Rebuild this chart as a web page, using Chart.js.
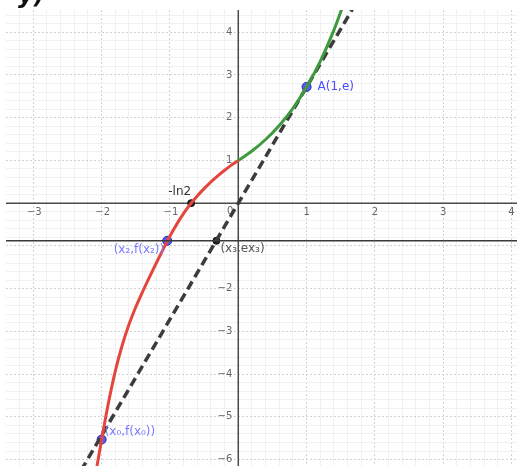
<!DOCTYPE html>
<html>
<head>
<meta charset="utf-8">
<script src="https://cdn.jsdelivr.net/npm/chart.js@4.4.1/dist/chart.umd.min.js"></script>
<style>
  html, body { margin: 0; padding: 0; background: #fff; }
  #wrap { width: 517px; height: 466px; }
</style>
</head>
<body>
<div id="wrap"><canvas id="graph" width="517" height="466"></canvas></div>
<script>
// visible window of the graph
const xMin = -3.4, xMax = 4.08;
const yMin = -6.15, yMax = 4.52;

// axis numbers (the -1 on the y axis is hidden under a label)
const xTickLabels = [-3, -2, -1, 1, 2, 3, 4];
const yTickLabels = [-6, -5, -4, -3, -2, 1, 2, 3, 4];

// red branch (x < 0)
const redX = [-2.1, -2.0, -1.9, -1.8, -1.7, -1.6, -1.5, -1.4, -1.3, -1.2, -1.1, -1.0, -0.9, -0.8, -0.7, -0.6, -0.5, -0.4, -0.3, -0.2, -0.1, 0];
const redY = [-6.45, -5.53, -4.67, -3.93, -3.33, -2.84, -2.43, -2.07, -1.73, -1.40, -1.08, -0.77, -0.49, -0.24, -0.02, 0.17, 0.34, 0.50, 0.64, 0.77, 0.89, 1.0];

// green branch (x > 0)
const greenX = [0, 0.2, 0.4, 0.6, 0.8, 1.0, 1.2, 1.4, 1.55];
const greenY = [1, 1.22, 1.49, 1.82, 2.22, 2.72, 3.32, 4.05, 4.7];

// dashed tangent through A and the origin
const tangentX = [-2.3, 1.7];
const tangentY = [-6.25, 4.62];

// horizontal line y = f(x2)
const levelX = [-3.4, 4.08];
const levelY = [-0.88, -0.88];

// marked points
const bluePtX = [1, -1.04, -2.0];
const bluePtY = [2.72, -0.88, -5.53];
const bluePtNames = ['A(1,e)', '(x₂,f(x₂))', '(x₀,f(x₀))'];
const blackPtX = [-0.69, -0.32];
const blackPtY = [0, -0.88];
const blackPtNames = ['-ln2', '(x₃,ex₃)'];

const toXY = (xs, ys) => xs.map((v, i) => ({ x: v, y: ys[i] }));
const isWhole = v => Math.abs(v - Math.round(v)) < 1e-6;

const graphDecor = {
    id: 'graphDecor',
    beforeDatasetsDraw(chart) {
        const { ctx, chartArea, scales: { x, y } } = chart;
        const x0 = x.getPixelForValue(0);
        const y0 = y.getPixelForValue(0);
        ctx.save();
        ctx.strokeStyle = '#4a4a4a';
        ctx.lineWidth = 1.5;
        ctx.beginPath();
        ctx.moveTo(chartArea.left, y0);
        ctx.lineTo(chartArea.right, y0);
        ctx.moveTo(x0, chartArea.top);
        ctx.lineTo(x0, chartArea.bottom);
        ctx.stroke();

        ctx.font = '10px "DejaVu Sans"';
        ctx.fillStyle = '#666';
        ctx.textAlign = 'center';
        ctx.textBaseline = 'top';
        xTickLabels.forEach(v => {
            ctx.fillText(String(v).replace('-', '−'), x.getPixelForValue(v) + (v < 0 ? 1 : 0), y0 + 4);
        });
        ctx.textAlign = 'right';
        ctx.textBaseline = 'middle';
        yTickLabels.forEach(v => {
            ctx.fillText(String(v).replace('-', '−'), x0 - 6, y.getPixelForValue(v));
        });
        ctx.textBaseline = 'top';
        ctx.fillText('0', x0 - 5, y0 + 3);

        // cut-off heading above the graph
        ctx.fillStyle = '#111';
        ctx.font = 'italic bold 24px "DejaVu Sans"';
        ctx.textAlign = 'left';
        ctx.textBaseline = 'alphabetic';
        ctx.fillText('y)', 18, 3);
        ctx.restore();
    },
    afterDatasetsDraw(chart) {
        const { ctx } = chart;
        const blue = chart.getDatasetMeta(4).data;
        const black = chart.getDatasetMeta(5).data;
        ctx.save();
        ctx.font = '12px "DejaVu Sans"';
        ctx.textBaseline = 'middle';

        // A(1,e)
        ctx.fillStyle = '#4d4dff';
        ctx.textAlign = 'left';
        ctx.fillText(bluePtNames[0], blue[0].x + 11, blue[0].y);
        // (x2,f(x2))
        ctx.fillStyle = '#7a7aff';
        ctx.textAlign = 'right';
        ctx.fillText(bluePtNames[1], blue[1].x - 3, blue[1].y + 9);
        // (x0,f(x0))
        ctx.textAlign = 'left';
        ctx.fillText(bluePtNames[2], blue[2].x + 3, blue[2].y - 8);

        // -ln2
        ctx.fillStyle = '#333';
        ctx.textAlign = 'right';
        ctx.fillText(blackPtNames[0], black[0].x, black[0].y - 11);
        // (x3,ex3)
        ctx.fillStyle = '#555';
        ctx.textAlign = 'left';
        ctx.fillText(blackPtNames[1], black[1].x + 4, black[1].y + 8);
        ctx.restore();
    }
};

new Chart(document.getElementById('graph'), {
    type: 'scatter',
    data: {
        datasets: [
            {
                data: toXY(levelX, levelY), showLine: true, pointRadius: 0,
                borderColor: '#3a3a3a', borderWidth: 1.5
            },
            {
                data: toXY(redX, redY), showLine: true, pointRadius: 0,
                borderColor: '#e4453c', borderWidth: 3, cubicInterpolationMode: 'monotone'
            },
            {
                data: toXY(greenX, greenY), showLine: true, pointRadius: 0,
                borderColor: '#3f9a3f', borderWidth: 3, cubicInterpolationMode: 'monotone'
            },
            {
                data: toXY(tangentX, tangentY), showLine: true, pointRadius: 0,
                borderColor: '#3c3c3c', borderWidth: 3.5, borderDash: [9, 5]
            },
            {
                data: toXY(bluePtX, bluePtY), pointRadius: 4.5,
                backgroundColor: '#5a5aff', borderColor: '#23239a', borderWidth: 1
            },
            {
                data: toXY(blackPtX, blackPtY), pointRadius: 3.5,
                backgroundColor: '#222', borderColor: '#111', borderWidth: 1
            }
        ]
    },
    options: {
        responsive: false,
        animation: false,
        layout: { autoPadding: false, padding: { left: 6, top: 10, right: 0, bottom: 0 } },
        plugins: { legend: { display: false }, tooltip: { enabled: false } },
        scales: {
            x: {
                type: 'linear', min: xMin, max: xMax,
                ticks: { display: false, stepSize: 0.2, includeBounds: false },
                grid: { drawTicks: false, lineWidth: 1, color: c => (c.tick && isWhole(c.tick.value)) ? '#d2d2d2' : '#f1f1f1' },
                border: { display: false, dash: c => (c.tick && isWhole(c.tick.value)) ? [2, 2] : [] }
            },
            y: {
                type: 'linear', min: yMin, max: yMax,
                ticks: { display: false, stepSize: 0.2, includeBounds: false },
                grid: { drawTicks: false, lineWidth: 1, color: c => (c.tick && isWhole(c.tick.value)) ? '#d2d2d2' : '#f1f1f1' },
                border: { display: false, dash: c => (c.tick && isWhole(c.tick.value)) ? [2, 2] : [] }
            }
        }
    },
    plugins: [graphDecor]
});
</script>
</body>
</html>
